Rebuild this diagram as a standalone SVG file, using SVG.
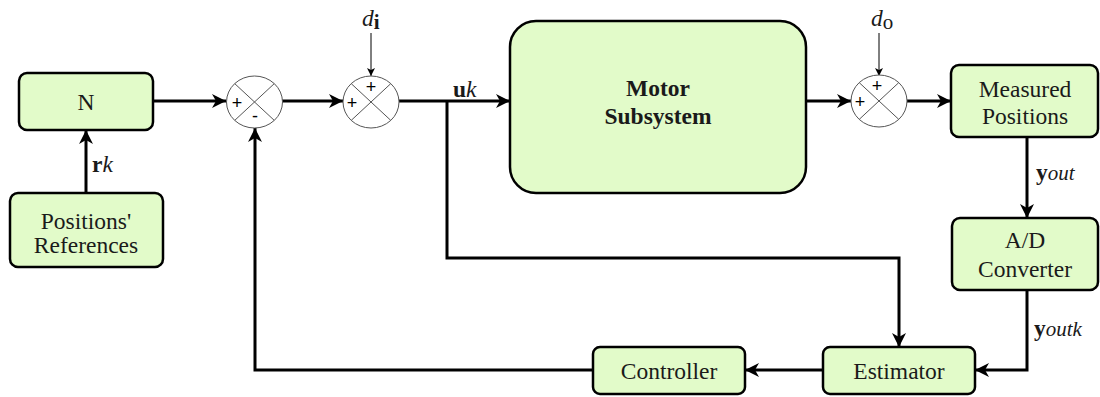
<svg xmlns="http://www.w3.org/2000/svg" width="1100" height="397" viewBox="0 0 1100 397">
<style>
.box{fill:#e2fbc9;stroke:#000;stroke-width:2.5}
.lbl{font-size:23.5px;fill:#1a1a1a;text-anchor:middle}
.bold{font-weight:bold}
.wire{fill:none;stroke:#000;stroke-width:3}
.thin{fill:none;stroke:#000;stroke-width:1}
.sum{fill:#fff;stroke:#555;stroke-width:1}
.x{stroke:#555;stroke-width:1}
.sgn{font-size:18px;fill:#000;text-anchor:middle}
.math{font-size:23.5px;fill:#1a1a1a}
</style>
<defs>
<marker id="ah" markerUnits="userSpaceOnUse" markerWidth="16" markerHeight="14" refX="14" refY="7" orient="auto">
<path d="M0,0 L14,7 L0,14 L4,7 Z" fill="#000"/>
</marker>
<marker id="ahs" markerUnits="userSpaceOnUse" markerWidth="10" markerHeight="10" refX="8" refY="4" orient="auto">
<path d="M0,0 L8,4 L0,8 L2,4 Z" fill="#000"/>
</marker>
</defs>
<g font-family="Liberation Serif, Times New Roman, serif">
<g id="connectors">
<line class="wire" x1="153" y1="101" x2="226" y2="101" marker-end="url(#ah)"/>
<line class="wire" x1="282" y1="101" x2="343" y2="101" marker-end="url(#ah)"/>
<line class="wire" x1="399" y1="101" x2="510" y2="101" marker-end="url(#ah)"/>
<line class="wire" x1="806" y1="101" x2="851" y2="101" marker-end="url(#ah)"/>
<line class="wire" x1="907" y1="101" x2="951" y2="101" marker-end="url(#ah)"/>
<line class="wire" x1="1027" y1="137" x2="1027" y2="218" marker-end="url(#ah)"/>
<polyline class="wire" points="1027,290 1027,370 975,370" marker-end="url(#ah)"/>
<line class="wire" x1="823" y1="370" x2="745" y2="370" marker-end="url(#ah)"/>
<polyline class="wire" points="593,370 255,370 255,128" marker-end="url(#ah)"/>
<polyline class="wire" points="447,101 447,258 899,258 899,347" marker-end="url(#ah)"/>
<line class="wire" x1="86" y1="193" x2="86" y2="130" marker-end="url(#ah)"/>
<line class="thin" x1="371" y1="33" x2="371" y2="76" marker-end="url(#ahs)"/>
<line class="thin" x1="879" y1="33" x2="879" y2="76" marker-end="url(#ahs)"/>
<text class="math" x="92" y="172"><tspan font-weight="bold">r</tspan><tspan font-style="italic">k</tspan></text>
<text class="math" x="453" y="97"><tspan font-weight="bold">u</tspan><tspan font-style="italic">k</tspan></text>
<text class="math" x="1036" y="180"><tspan font-weight="bold">y</tspan><tspan font-style="italic" font-size="21">out</tspan></text>
<text class="math" x="1034" y="336"><tspan font-weight="bold">y</tspan><tspan font-style="italic" font-size="21">outk</tspan></text>
<text class="math" x="362" y="26"><tspan font-style="italic">d</tspan><tspan dy="3" font-size="21" font-weight="bold">i</tspan></text>
<text class="math" x="871" y="26"><tspan font-style="italic">d</tspan><tspan dy="3" font-size="21">o</tspan></text>
</g>
<g id="node-N"><rect class="box" x="19" y="73" width="134" height="57" rx="8"/><text class="lbl" x="86" y="110">N</text></g>
<g id="node-refs"><rect class="box" x="10" y="193" width="153" height="74" rx="8"/><text class="lbl" x="86" y="229">Positions'</text><text class="lbl" x="86" y="253">References</text></g>
<g id="sum1"><ellipse class="sum" cx="254.5" cy="102" rx="28" ry="26"/><line class="x" x1="234.7" y1="83.6" x2="274.3" y2="120.4"/><line class="x" x1="274.3" y1="83.6" x2="234.7" y2="120.4"/><text class="sgn" font-family="Liberation Sans, Arial, sans-serif" x="237" y="109">+</text><text class="sgn" font-family="Liberation Sans, Arial, sans-serif" x="255" y="122">-</text></g>
<g id="sum2"><ellipse class="sum" cx="371" cy="102" rx="28" ry="26"/><line class="x" x1="351.2" y1="83.6" x2="390.8" y2="120.4"/><line class="x" x1="390.8" y1="83.6" x2="351.2" y2="120.4"/><text class="sgn" font-family="Liberation Sans, Arial, sans-serif" x="352" y="109">+</text><text class="sgn" font-family="Liberation Sans, Arial, sans-serif" x="371" y="93">+</text></g>
<g id="node-motor"><rect class="box" x="510" y="21" width="296" height="172" rx="26"/><text class="lbl bold" x="658" y="96">Motor</text><text class="lbl bold" x="658" y="124">Subsystem</text></g>
<g id="sum3"><ellipse class="sum" cx="879" cy="101" rx="28" ry="26"/><line class="x" x1="859.2" y1="82.6" x2="898.8" y2="119.4"/><line class="x" x1="898.8" y1="82.6" x2="859.2" y2="119.4"/><text class="sgn" font-family="Liberation Sans, Arial, sans-serif" x="860" y="108">+</text><text class="sgn" font-family="Liberation Sans, Arial, sans-serif" x="877" y="92">+</text></g>
<g id="node-measured"><rect class="box" x="951" y="65" width="147" height="72" rx="8"/><text class="lbl" x="1025" y="97">Measured</text><text class="lbl" x="1025" y="124">Positions</text></g>
<g id="node-ad"><rect class="box" x="952" y="218" width="146" height="72" rx="8"/><text class="lbl" x="1025" y="248">A/D</text><text class="lbl" x="1025" y="277">Converter</text></g>
<g id="node-estimator"><rect class="box" x="823" y="347" width="152" height="47" rx="7"/><text class="lbl" x="899" y="379">Estimator</text></g>
<g id="node-controller"><rect class="box" x="593" y="347" width="152" height="47" rx="7"/><text class="lbl" x="669" y="379">Controller</text></g>
</g>
</svg>
